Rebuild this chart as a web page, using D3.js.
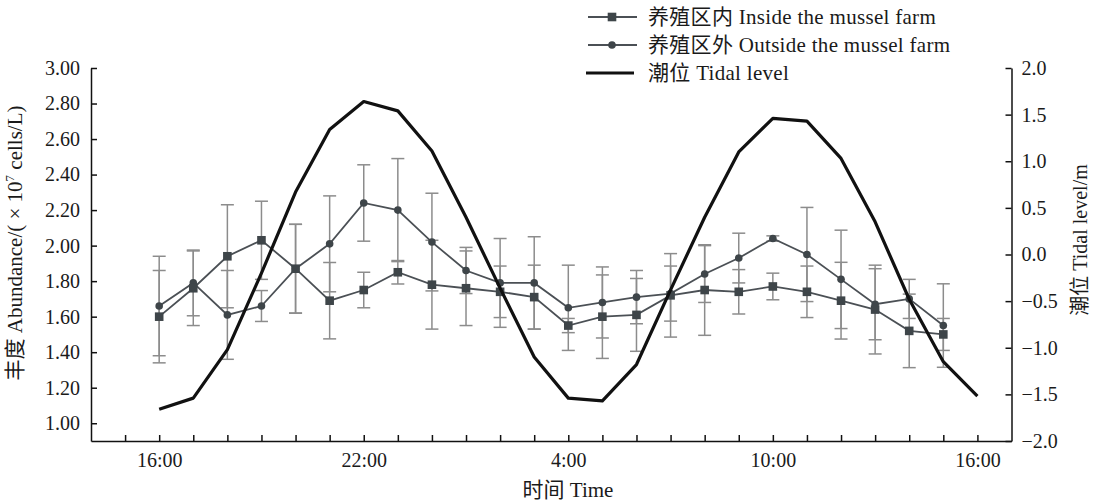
<!DOCTYPE html>
<html><head><meta charset="utf-8">
<script src="https://cdn.jsdelivr.net/npm/d3@7"></script>
<style>
body{margin:0;background:#fff}
svg{display:block}
text{font-family:"Liberation Serif","Times New Roman","Noto Sans CJK SC",serif;fill:#1a1a1a}
</style></head>
<body><svg id="c" width="1093" height="504"></svg>
<script>
// ---- data ----
const sampleHours = [0,1,2,3,4,5,6,7,8,9,10,11,12,13,14,15,16,17,18,19,20,21,22,23];
const insideMean = [1.60,1.76,1.94,2.03,1.87,1.69,1.75,1.85,1.78,1.76,1.74,1.71,1.55,1.60,1.61,1.72,1.75,1.74,1.77,1.74,1.69,1.64,1.52,1.50];
const insideErr  = [0.26,0.21,0.29,0.22,0.25,0.215,0.10,0.066,0.25,0.21,0.145,0.18,0.04,0.235,0.205,0.235,0.255,0.125,0.075,0.145,0.216,0.25,0.207,0.09];
const outsideMean = [1.66,1.79,1.61,1.66,1.87,2.01,2.24,2.20,2.02,1.86,1.79,1.79,1.65,1.68,1.71,1.73,1.84,1.93,2.04,1.95,1.81,1.67,1.70,1.55];
const outsideErr  = [0.28,0.185,0.25,0.087,0.25,0.27,0.215,0.29,0.275,0.13,0.25,0.26,0.24,0.20,0.15,0.155,0.16,0.14,0.015,0.265,0.277,0.20,0.11,0.235];
const tideHours = [0,1,2,3,4,5,6,7,8,9,10,11,12,13,14,15,16,17,18,19,20,21,22,23,24];
const tideLevel = [-1.66,-1.54,-1.02,-0.20,0.67,1.34,1.64,1.54,1.11,0.40,-0.36,-1.10,-1.54,-1.57,-1.18,-0.38,0.40,1.10,1.46,1.43,1.03,0.35,-0.48,-1.15,-1.52];
const xTickHours = [-1,0,1,2,3,4,5,6,7,8,9,10,11,12,13,14,15,16,17,18,19,20,21,22,23,24];
const xLabelHours = [0,6,12,18,24];
const xLabels = ["16:00","22:00","4:00","10:00","16:00"];
const leftTicks = [1.00,1.20,1.40,1.60,1.80,2.00,2.20,2.40,2.60,2.80,3.00];
const rightTicks = [-2.0,-1.5,-1.0,-0.5,0.0,0.5,1.0,1.5,2.0];
const legendLabels = ["养殖区内 Inside the mussel farm","养殖区外 Outside the mussel farm","潮位 Tidal level"];

// ---- layout ----
const svg = d3.select("#c");
const X0 = 91, X1 = 1011.5, YT = 68, YB = 441;
const x = d3.scaleLinear().domain([-2,25]).range([X0,X1]);
const yL = d3.scaleLinear().domain([0.9,3.0]).range([YB,YT]);
const yR = d3.scaleLinear().domain([-2,2]).range([YB,YT]);

const seriesColor = "#4b5055", markColor = "#3e4549", errColor = "#8c8c8c";

// error bars
function errBars(mean, err){
  const g = svg.append("g").attr("stroke", errColor).attr("stroke-width",1.5).attr("fill","none");
  sampleHours.forEach((h,i)=>{
    const cx = x(h), t = yL(mean[i]+err[i]), b = yL(mean[i]-err[i]);
    g.append("line").attr("x1",cx).attr("x2",cx).attr("y1",t).attr("y2",b);
    g.append("line").attr("x1",cx-6.5).attr("x2",cx+6.5).attr("y1",t).attr("y2",t);
    g.append("line").attr("x1",cx-6.5).attr("x2",cx+6.5).attr("y1",b).attr("y2",b);
  });
}
errBars(outsideMean, outsideErr);
errBars(insideMean, insideErr);

const line = d3.line().x(d=>x(d[0])).y(d=>yL(d[1]));
svg.append("path").datum(sampleHours.map((h,i)=>[h,outsideMean[i]]))
  .attr("d",line).attr("fill","none").attr("stroke",seriesColor).attr("stroke-width",1.8);
svg.append("path").datum(sampleHours.map((h,i)=>[h,insideMean[i]]))
  .attr("d",line).attr("fill","none").attr("stroke",seriesColor).attr("stroke-width",1.8);

svg.append("g").selectAll("circle").data(sampleHours).join("circle")
  .attr("cx",h=>x(h)).attr("cy",(h,i)=>yL(outsideMean[i])).attr("r",3.8).attr("fill",markColor);
svg.append("g").selectAll("rect").data(sampleHours).join("rect")
  .attr("x",h=>x(h)-4.3).attr("y",(h,i)=>yL(insideMean[i])-4.3).attr("width",8.6).attr("height",8.6).attr("fill",markColor);

// tide
const tline = d3.line().x(d=>x(d[0])).y(d=>yR(d[1]));
svg.append("path").datum(tideHours.map((h,i)=>[h,tideLevel[i]]))
  .attr("d",tline).attr("fill","none").attr("stroke","#111").attr("stroke-width",3.2).attr("stroke-linejoin","round");

// axes
const fs = "20px";
const gL = svg.append("g").attr("transform",`translate(${X0},0)`)
  .call(d3.axisLeft(yL).tickValues(leftTicks).tickFormat(d3.format(".2f")).tickSizeInner(-6).tickSizeOuter(0).tickPadding(11));
const gR = svg.append("g").attr("transform",`translate(${X1},0)`)
  .call(d3.axisRight(yR).tickValues(rightTicks).tickFormat(d=>d3.format(".1f")(d).replace("-","\u2212")).tickSizeInner(-6).tickSizeOuter(0).tickPadding(10));
const gB = svg.append("g").attr("transform",`translate(0,${YB})`)
  .call(d3.axisBottom(x).tickValues(xTickHours).tickFormat(h=>{const k=xLabelHours.indexOf(h);return k>=0?xLabels[k]:"";}).tickSizeInner(-6).tickSizeOuter(0).tickPadding(12));
[gL,gR,gB].forEach(g=>{
  g.selectAll("path.domain").attr("stroke","#111").attr("stroke-width",1.5);
  g.selectAll(".tick line").attr("stroke","#111").attr("stroke-width",1.5);
  g.selectAll("text").attr("font-size",fs).attr("font-family",null).attr("fill","#1a1a1a");
  g.attr("font-family",null);
});

// titles
const lt = svg.append("text").attr("transform","translate(22,243) rotate(-90)").attr("text-anchor","middle").attr("font-size","21px");
lt.append("tspan").text("丰度 Abundance/( × 10");
lt.append("tspan").attr("font-size","13px").attr("dy","-8").text("7");
lt.append("tspan").attr("dy","8").text(" cells/L)");
svg.append("text").attr("transform","translate(1087,240) rotate(-90)").attr("text-anchor","middle").attr("font-size","20px").text("潮位 Tidal level/m");
svg.append("text").attr("x",568).attr("y",497).attr("text-anchor","middle").attr("font-size","21px").text("时间 Time");

// legend
const legY = [17,45,73];
const lg = svg.append("g");
legendLabels.forEach((t,i)=>{
  const y = legY[i];
  if(i<2){
    lg.append("line").attr("x1",588).attr("x2",637).attr("y1",y).attr("y2",y).attr("stroke",seriesColor).attr("stroke-width",1.8);
    if(i===0) lg.append("rect").attr("x",612-4.3).attr("y",y-4.3).attr("width",8.6).attr("height",8.6).attr("fill",markColor);
    else lg.append("circle").attr("cx",612).attr("cy",y).attr("r",3.8).attr("fill",markColor);
  } else {
    lg.append("line").attr("x1",586).attr("x2",634).attr("y1",y).attr("y2",y).attr("stroke","#111").attr("stroke-width",3.2);
  }
  lg.append("text").attr("x",648).attr("y",y).attr("dy","0.35em").attr("font-size","21px").attr("letter-spacing","0.3").text(t);
});
</script></body></html>
